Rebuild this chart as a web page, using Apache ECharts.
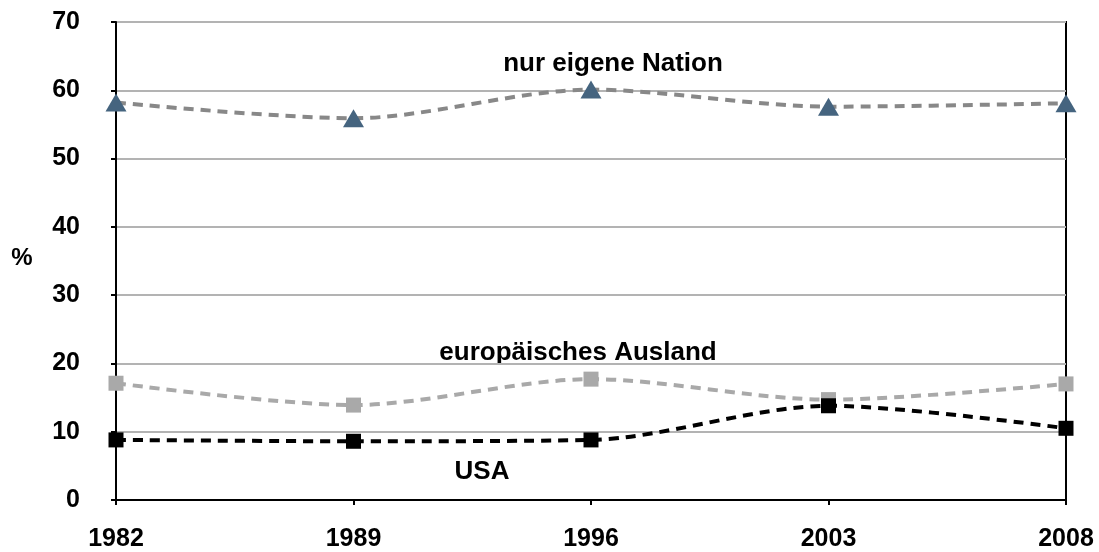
<!DOCTYPE html>
<html>
<head>
<meta charset="utf-8">
<script src="https://cdn.jsdelivr.net/npm/echarts@6/dist/echarts.min.js"></script>
<style>
  html, body { margin: 0; padding: 0; background: #fff; }
  #chart { width: 1099px; height: 552px; }
</style>
</head>
<body>
<div id="chart"></div>
<script>
// Jahre und Werte (in %)
var years = ['1982', '1989', '1996', '2003', '2008'];
var nurEigeneNation = [58.2, 55.9, 60.1, 57.6, 58.1];
var europaeischesAusland = [17.1, 13.9, 17.7, 14.7, 17.0];
var usa = [8.8, 8.6, 8.8, 13.8, 10.5];

var fontFam = '"Liberation Sans", Arial, sans-serif';

var chart = echarts.init(document.getElementById('chart'));
chart.setOption({
    animation: false,
    grid: {
        left: 116, right: 33, top: 22, bottom: 52,
        show: true, borderColor: '#000', borderWidth: 2
    },
    xAxis: {
        type: 'category',
        data: years,
        boundaryGap: false,
        axisLine: { lineStyle: { color: '#000', width: 2 } },
        axisTick: { show: true, length: 5, lineStyle: { color: '#000', width: 2 } },
        axisLabel: { color: '#000', fontWeight: 'bold', fontSize: 25, fontFamily: fontFam, margin: 27 }
    },
    yAxis: {
        type: 'value',
        min: 0, max: 70, interval: 10,
        axisLine: { show: true, lineStyle: { color: '#000', width: 2 } },
        axisTick: { show: true, length: 5, lineStyle: { color: '#000', width: 2 } },
        axisLabel: { color: '#000', fontWeight: 'bold', fontSize: 25, fontFamily: fontFam, margin: 36 },
        splitLine: { lineStyle: { color: '#b3b3b3', width: 2 } }
    },
    series: [
        {
            name: 'nur eigene Nation',
            type: 'line',
            data: nurEigeneNation,
            smooth: 0.3,
            symbol: 'triangle',
            symbolSize: [21, 18],
            itemStyle: { color: '#45647f' },
            lineStyle: { color: '#888888', width: 4, type: [10, 7] },
            z: 3
        },
        {
            name: 'europäisches Ausland',
            type: 'line',
            data: europaeischesAusland,
            smooth: 0.3,
            symbol: 'rect',
            symbolSize: 15,
            itemStyle: { color: '#a9a9a9' },
            lineStyle: { color: '#a9a9a9', width: 4, type: [10, 7] },
            z: 3
        },
        {
            name: 'USA',
            type: 'line',
            data: usa,
            smooth: 0.3,
            symbol: 'rect',
            symbolSize: 15,
            itemStyle: { color: '#000' },
            lineStyle: { color: '#000', width: 4, type: [10, 7] },
            z: 4
        }
    ],
    graphic: [
        { type: 'text', x: 22, y: 258, style: { text: '%', fill: '#000', font: 'bold 24px ' + fontFam, textAlign: 'center', textVerticalAlign: 'middle' } },
        { type: 'text', x: 613, y: 64, style: { text: 'nur eigene Nation', fill: '#000', font: 'bold 26px ' + fontFam, textAlign: 'center', textVerticalAlign: 'middle' } },
        { type: 'text', x: 578, y: 353, style: { text: 'europäisches Ausland', fill: '#000', font: 'bold 26px ' + fontFam, textAlign: 'center', textVerticalAlign: 'middle' } },
        { type: 'text', x: 482, y: 472, style: { text: 'USA', fill: '#000', font: 'bold 26px ' + fontFam, textAlign: 'center', textVerticalAlign: 'middle' } }
    ]
});
</script>
</body>
</html>
